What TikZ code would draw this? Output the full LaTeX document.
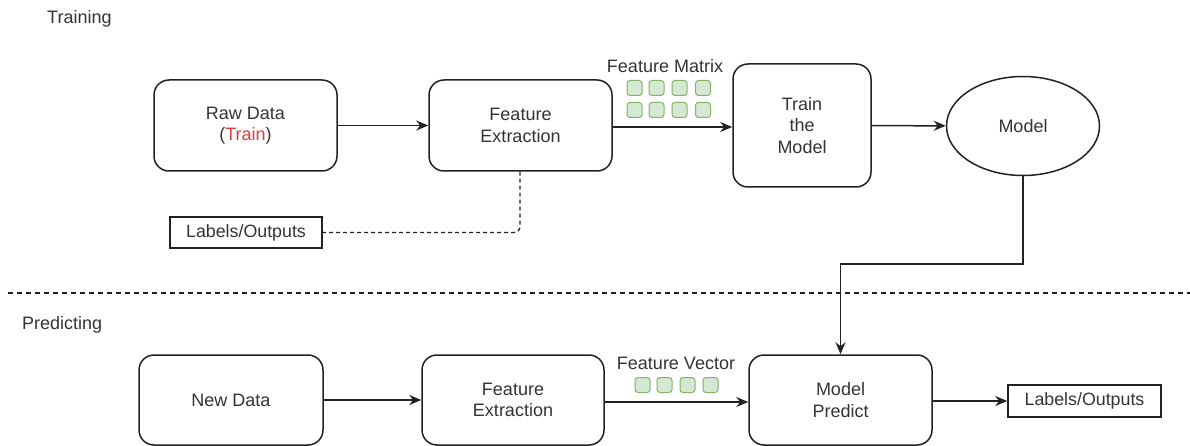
\documentclass[tikz,border=0pt]{standalone}
\usepackage{fontspec}
\setmainfont{Liberation Sans}
\usetikzlibrary{shapes.geometric,arrows.meta}
\definecolor{txt}{HTML}{333333}
\definecolor{ln}{HTML}{222222}
\definecolor{gfill}{HTML}{D5E8D4}
\definecolor{gdraw}{HTML}{82B366}
\definecolor{redtxt}{HTML}{E03A3A}
\tikzset{
  base/.style={draw=ln, line width=1.5pt, text=txt, align=center, inner sep=0pt,
    font=\fontsize{18}{21.5}\selectfont},
  rbox/.style={base, rectangle, rounded corners=15pt, minimum width=#1, minimum height=91pt},
  sbox/.style={base, rectangle, minimum height=31pt, font=\fontsize{17.8}{21}\selectfont},
  ell/.style={base, ellipse, minimum width=153pt, minimum height=99pt},
  lbl/.style={text=txt, inner sep=0pt, font=\fontsize{18}{21.5}\selectfont},
  sq/.style={draw=gdraw, fill=gfill, line width=1pt, rounded corners=3pt, minimum size=15pt, inner sep=0pt},
  conn/.style={draw=ln, line width=1.5pt, -{Stealth[length=12pt,width=10pt]}},
}
\begin{document}
\begin{tikzpicture}[x=1pt,y=-1pt]
\useasboundingbox (0,0) rectangle (1190,446);
% section labels
\node[lbl, anchor=west] (ttrain) at (47,19) {Training};
\node[lbl, anchor=west] (tpred) at (22,325) {Predicting};
% separator
\coordinate (sepL) at (8,293);
\coordinate (sepR) at (1190,293);
\draw[ln, line width=1.3pt, dash pattern=on 5pt off 4pt] (sepL) -- (sepR);
% training row
\node[rbox=183pt] (raw) at (245.5,125.5) {Raw Data\\(\textcolor{redtxt}{Train})};
\node[rbox=183pt] (fe1) at (520.5,125.5) {Feature\\Extraction};
\node[rbox=138pt, minimum height=123pt] (train) at (802,125.5) {Train\\the\\Model};
\node[ell] (model) at (1023,126) {Model};
\node[sbox, minimum width=152pt] (lab1) at (246,232.5) {Labels/Outputs};
% feature matrix
\node[lbl] (fmat) at (665,66) {Feature Matrix};
\foreach \i/\x in {1/634.5,2/656.5,3/679.5,4/703} {
  \node[sq] (m1\i) at (\x,88) {};
  \node[sq] (m2\i) at (\x,110) {};
}
% predicting row
\node[rbox=184pt, minimum height=90pt] (new) at (231,400) {New Data};
\node[rbox=182pt, minimum height=90pt] (fe2) at (513,400) {Feature\\Extraction};
\node[rbox=183pt, minimum height=90pt] (pred) at (840.5,400) {Model\\Predict};
\node[sbox, minimum width=153pt, minimum height=32pt] (lab2) at (1084.5,401) {Labels/Outputs};
% feature vector
\node[lbl] (fvec) at (676,363) {Feature Vector};
\foreach \i/\x in {1/642.5,2/664.5,3/687.5,4/710.5} {
  \node[sq] (v\i) at (\x,385) {};
}
% connectors
\draw[conn] (raw) -- (fe1);
\draw[conn] (fe1.east |- 0,127) -- (train.west |- 0,127);
\draw[conn] (train) -- (model);
\draw[draw=ln, line width=1.3pt, dash pattern=on 4pt off 3pt, rounded corners=6pt]
  (fe1.south -| 520,0) |- (lab1.east);
\draw[conn] (model.south) -- (1023,264) -| (pred.north);
\draw[conn] (new) -- (fe2);
\draw[conn] (fe2.east |- 0,402) -- (pred.west |- 0,402);
\draw[conn] (pred.east |- 0,401) -- (lab2.west);
\end{tikzpicture}
\end{document}
